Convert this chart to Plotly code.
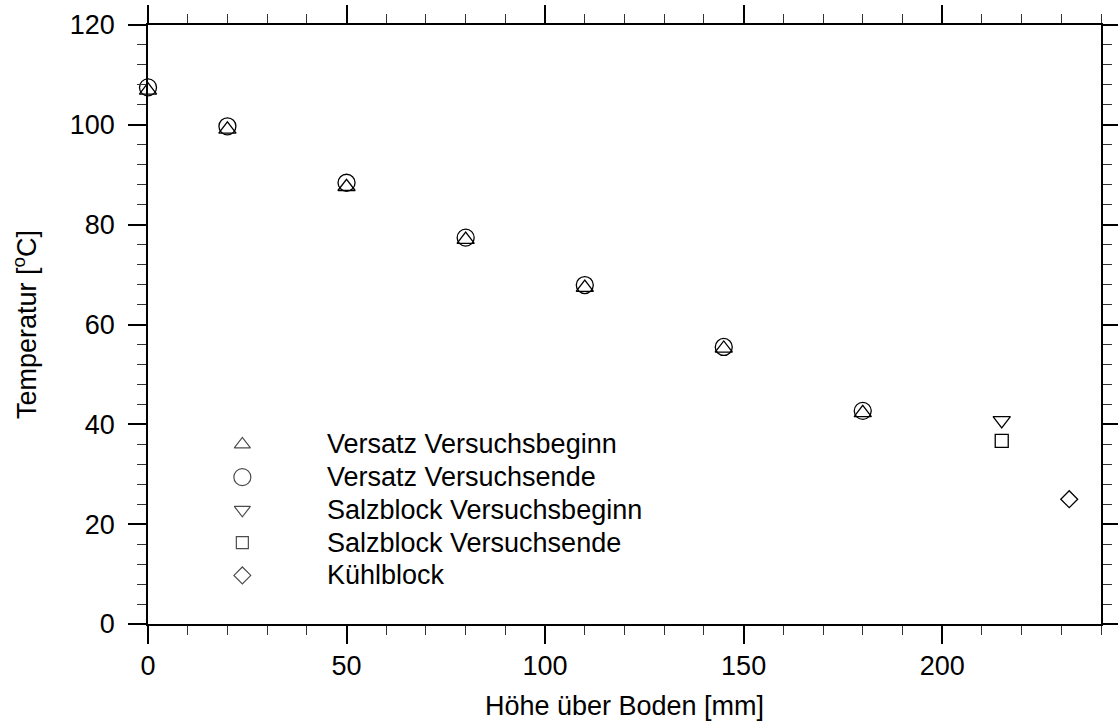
import plotly.graph_objects as go

# Messpositionen (Höhe über Boden in mm)
hoehe_versatz = [0, 20, 50, 80, 110, 145, 180]
hoehe_salzblock = [215]
hoehe_kuehlblock = [232]

# Temperaturen in °C
temp_versatz_beginn = [106.9, 99.1, 87.6, 77.0, 67.4, 55.2, 42.3]
temp_versatz_ende = [107.5, 99.7, 88.4, 77.4, 67.9, 55.5, 42.7]
temp_salz_beginn = [40.8]
temp_salz_ende = [36.7]
temp_kuehl = [25.0]

# Achsenbeschriftung
x_ticks = [0, 50, 100, 150, 200]
y_ticks = [0, 20, 40, 60, 80, 100, 120]

FONT = "Liberation Sans, Arial, Helvetica, sans-serif"
FS = 27

# Name, x, y, Symbol, Größe im Diagramm, Größe in der Legende
series = [
    ("Versatz Versuchsbeginn", hoehe_versatz, temp_versatz_beginn, "triangle-up-open", 15, 14),
    ("Versatz Versuchsende", hoehe_versatz, temp_versatz_ende, "circle-open", 17, 17),
    ("Salzblock Versuchsbeginn", hoehe_salzblock, temp_salz_beginn, "triangle-down-open", 15, 14),
    ("Salzblock Versuchsende", hoehe_salzblock, temp_salz_ende, "square-open", 13, 12),
    ("Kühlblock", hoehe_kuehlblock, temp_kuehl, "diamond-open", 13, 13),
]

fig = go.Figure()

for name, x, y, sym, size, _ in series:
    fig.add_trace(go.Scatter(
        x=x, y=y, name=name, mode="markers", showlegend=False, cliponaxis=False,
        marker=dict(symbol=sym, size=size, color="black",
                    line=dict(color="black", width=1.3)),
    ))

# Legende: Symbole auf einer überlagerten Hilfsachse (0..1 über die Plotfläche),
# Beschriftungen als Annotationen
leg_sym_x = 0.0990
leg_txt_x = 0.1857
leg_y0 = 0.2999
leg_dy = 0.0547
fig.add_trace(go.Scatter(
    x=[leg_sym_x] * len(series),
    y=[leg_y0 - i * leg_dy for i in range(len(series))],
    mode="markers", showlegend=False, hoverinfo="skip", cliponaxis=False,
    xaxis="x2", yaxis="y2",
    marker=dict(symbol=[s[3] for s in series], size=[s[5] for s in series],
                color="black", line=dict(color="black", width=1.2)),
))
for i, s in enumerate(series):
    fig.add_annotation(
        x=leg_txt_x, y=leg_y0 - i * leg_dy, xref="paper", yref="paper",
        text=s[0], showarrow=False, xanchor="left", yanchor="middle",
        font=dict(family=FONT, size=FS, color="black"),
    )

axis_common = dict(
    showline=True, linecolor="black", linewidth=1.5,
    mirror="ticks", ticks="outside", ticklen=18, tickwidth=1.5,
    tickcolor="black", showgrid=False, zeroline=False, automargin=False,
    tickfont=dict(family=FONT, size=FS, color="black"),
    minor=dict(ticks="outside", ticklen=9, tickwidth=1.3, tickcolor="#333"),
)

fig.update_xaxes(
    range=[0, 240], tickmode="array", tickvals=x_ticks,
    minor_dtick=10, minor_tick0=0,
    title=dict(text="Höhe über Boden [mm]", font=dict(family=FONT, size=FS, color="black"),
               standoff=16),
    ticklabelstandoff=-1,
    **axis_common,
)
fig.update_yaxes(
    range=[0, 120], tickmode="array", tickvals=y_ticks,
    minor_dtick=4, minor_tick0=0,
    title=dict(text="Temperatur [<sup>o</sup>C]", font=dict(family=FONT, size=FS, color="black"),
               standoff=25),
    ticklabelstandoff=8,
    **axis_common,
)

fig.update_layout(
    width=1118, height=724,
    margin=dict(l=148, r=17, t=25, b=100),
    plot_bgcolor="white", paper_bgcolor="white",
    font=dict(family=FONT, size=FS, color="black"),
    showlegend=False,
    xaxis2=dict(overlaying="x", range=[0, 1], visible=False, fixedrange=True),
    yaxis2=dict(overlaying="y", range=[0, 1], visible=False, fixedrange=True),
)

fig.write_html("out.html")
